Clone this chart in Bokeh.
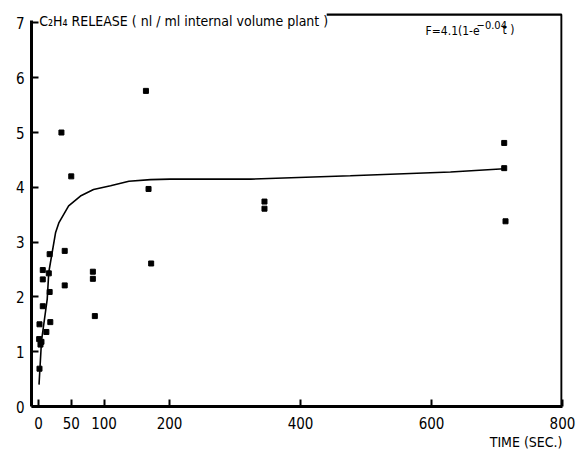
from bokeh.plotting import figure
from bokeh.models import FixedTicker, Label, Title
from bokeh.embed import file_html
from bokeh.resources import INLINE

# data
pt_time = [1.5, 1, 3, 4.5, 1.5, 12, 18, 6.5, 17, 6.5, 6.5, 15.7, 17, 40, 40, 35, 50,
           83, 83, 86, 168, 164, 172, 345, 345, 711, 711, 713]
pt_release = [0.69, 1.23, 1.13, 1.18, 1.50, 1.36, 1.54, 1.83, 2.09, 2.32, 2.49,
              2.43, 2.78, 2.84, 2.21, 5.0, 4.2, 2.46, 2.33, 1.65, 3.97, 5.76,
              2.61, 3.74, 3.61, 4.81, 4.35, 3.38]
fit_time = [0.8, 4.6, 13.3, 15.7, 26, 31, 46, 64, 84, 110, 138, 171, 201, 247, 324,
            476, 629, 711]
fit_release = [0.4, 1.2, 1.96, 2.45, 3.17, 3.35, 3.66, 3.84, 3.96, 4.03, 4.11,
               4.14, 4.15, 4.15, 4.15, 4.21, 4.28, 4.34]
x_ticks = [0, 50, 100, 200, 400, 600, 800]
y_ticks = [0, 1, 2, 3, 4, 5, 6, 7]
x_min, x_max = -10.7, 800
y_min, y_max = 0, 7.3
y_top_border = 7.15
title_end = 440  # where the title text ends on the top border

FONT = "DejaVu Sans Condensed"

p = figure(width=576, height=449, output_backend="svg", toolbar_location=None,
           x_range=(x_min, x_max), y_range=(y_min, y_max))
p.min_border_left = 31
p.min_border_right = 14
p.min_border_top = 6
p.min_border_bottom = 41
p.xgrid.visible = False
p.ygrid.visible = False
p.background_fill_color = "white"
p.border_fill_color = "white"
p.outline_line_color = None

for ax, ticks in ((p.xaxis, x_ticks), (p.yaxis, y_ticks)):
    ax.ticker = FixedTicker(ticks=ticks)
    ax.axis_line_width = 3
    ax.axis_line_color = "black"
    ax.major_tick_in = 7
    ax.major_tick_out = 0
    ax.major_tick_line_width = 2
    ax.major_tick_line_color = "black"
    ax.minor_tick_line_color = None
    ax.major_label_text_font = FONT
    ax.major_label_text_font_size = "15px"
    ax.major_label_text_color = "black"
p.yaxis.major_label_standoff = 7
p.xaxis.major_label_standoff = 10
p.yaxis.bounds = (0, 7.05)

# top and right frame border, drawn as a line along the range limits
p.line([title_end, x_max - 1.5, x_max - 1.5], [y_top_border, y_top_border, y_min],
       line_color="black", line_width=2.2)

p.line(fit_time, fit_release, line_color="black", line_width=1.6)
p.scatter(pt_time, pt_release, marker="square", size=5, color="black")

title = Label(x=1, y=7.04, text="C\u2082H\u2084 RELEASE ( nl / ml  internal volume plant )",
              text_font=FONT, text_font_size="14px", text_baseline="middle",
              text_color="black")
p.add_layout(title)

eq1 = Label(x=591, y=6.86, text="F=4.1(1-e", text_font=FONT, text_font_size="12px",
            text_baseline="middle", text_color="black")
eq2 = Label(x=591, y=6.86, x_offset=51, y_offset=6, text="\u22120.04", text_font=FONT,
            text_font_size="11px", text_baseline="middle", text_color="black")
eq3 = Label(x=591, y=6.86, x_offset=77, y_offset=1, text="t )", text_font=FONT,
            text_font_size="12px", text_baseline="middle", text_color="black")
for l in (eq1, eq2, eq3):
    p.add_layout(l)

xlab = Title(text="TIME (SEC.)", align="right", text_font=FONT, text_font_size="14px",
             text_font_style="normal", text_color="black", standoff=0, offset=0)
p.add_layout(xlab, "below")

open("out.html", "w").write(file_html(p, INLINE))
